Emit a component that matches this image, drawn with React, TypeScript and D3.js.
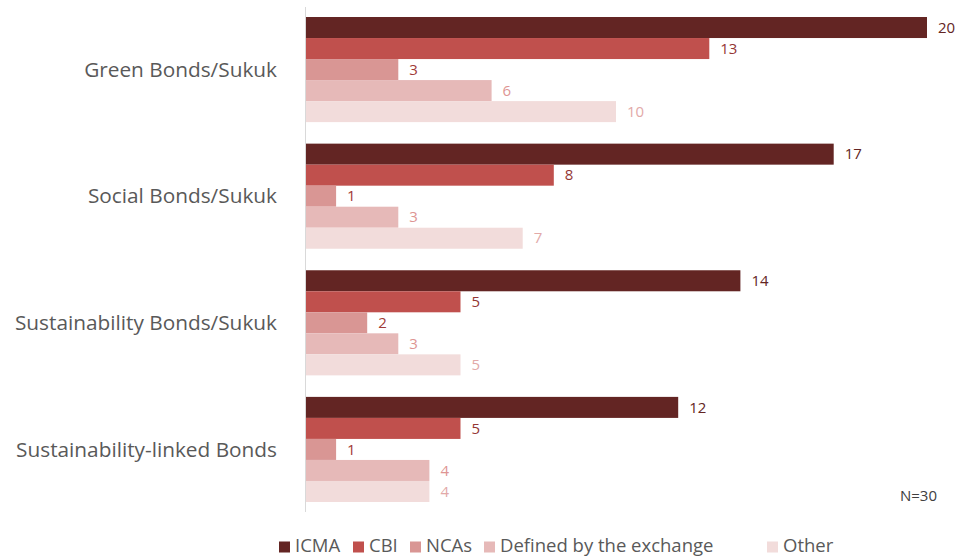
import React from 'react';
import { scaleBand, scaleLinear } from 'd3';

const categories = ['Green Bonds/Sukuk', 'Social Bonds/Sukuk', 'Sustainability Bonds/Sukuk', 'Sustainability-linked Bonds'];
const seriesNames = ['ICMA', 'CBI', 'NCAs', 'Defined by the exchange', 'Other'];
const icma = [20, 17, 14, 12];
const cbi = [13, 8, 5, 5];
const ncas = [3, 1, 2, 1];
const definedByExchange = [6, 3, 3, 4];
const other = [10, 7, 5, 4];
const seriesValues = [icma, cbi, ncas, definedByExchange, other];

const barColors = ['#632523', '#c0504d', '#d99694', '#e6b9b8', '#f2dcdb'];
const labelColors = ['#632523', '#943634', '#a13a37', '#de9593', '#e2a9a8'];

const W = 957;
const H = 559;
const font = "'Open Sans', 'Noto Sans', sans-serif";

export default function App() {
  const x = scaleLinear().domain([0, 20]).range([305, 927]);
  const y = scaleBand<string>()
    .domain(categories)
    .range([6.25, 512.75])
    .paddingInner(0.17)
    .paddingOuter(0.085);
  const ySub = scaleBand<string>().domain(seriesNames).range([0, y.bandwidth()]);

  // legend x positions (square left edge)
  const legendX = [279, 353, 410, 484, 767];

  return (
    <svg width={W} height={H} style={{ position: 'absolute', left: 0, top: 0, background: '#fff' }}>
      {categories.map((c, ci) => (
        <g key={c} transform={`translate(0,${y(c)})`}>
          {seriesNames.map((s, si) => {
            const v = seriesValues[si][ci];
            return (
              <g key={s}>
                <rect x={x(0)} y={ySub(s)} width={x(v) - x(0)} height={ySub.bandwidth()} fill={barColors[si]} />
                <text
                  x={x(v) + 11}
                  y={(ySub(s) as number) + ySub.bandwidth() / 2}
                  dy="0.35em"
                  fontFamily={font}
                  fontSize={15}
                  fill={labelColors[si]}
                >
                  {v}
                </text>
              </g>
            );
          })}
          <text
            x={277}
            y={y.bandwidth() / 2}
            dy="0.35em"
            textAnchor="end"
            fontFamily={font}
            fontSize={20.8}
            fill="#595959"
          >
            {c}
          </text>
        </g>
      ))}
      <line x1={305.5} x2={305.5} y1={7} y2={512} stroke="#d9d9d9" strokeWidth={1} />
      <text x={937} y={496} dy="0.35em" textAnchor="end" fontFamily={font} fontSize={15} fill="#404040">
        N=30
      </text>
      {seriesNames.map((s, si) => (
        <g key={s} transform={`translate(${legendX[si]},546)`}>
          <rect x={0} y={-4.5} width={11} height={11} fill={barColors[si]} />
          <text x={16} y={0} dy="0.35em" fontFamily={font} fontSize={18.5} fill="#595959">
            {s}
          </text>
        </g>
      ))}
    </svg>
  );
}
